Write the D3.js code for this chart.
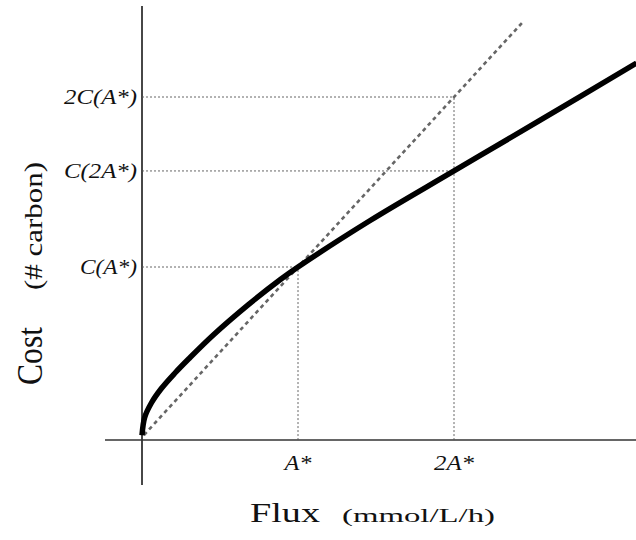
<!DOCTYPE html>
<html>
<head>
<meta charset="utf-8">
<script src="https://cdn.jsdelivr.net/npm/d3@7"></script>
<style>
  body { margin: 0; background: #fff; }
  svg { display: block; }
  text { font-family: "Liberation Serif", "DejaVu Serif", serif; fill: #111; }
</style>
</head>
<body>
<div id="chart"></div>
<script>
// cost curve, flux in units of A*, cost in units of C(A*)
const curveFlux = [0, 0.017, 0.06, 0.124, 0.21, 0.3, 0.457, 0.684, 0.885, 1.0, 1.46, 2.0, 2.55, 3.17];
const curveCost = [0.01, 0.115, 0.2, 0.285, 0.375, 0.46, 0.6, 0.78, 0.925, 1.0, 1.272, 1.565, 1.862, 2.2];

// linear reference (cost proportional to flux)
const refFlux = [0, 2.45];

// guide levels
const xGuides = [1, 2];
const xGuideLabels = ["A*", "2A*"];
const yGuides = [1, 1.565, 2];
const yGuideLabels = ["C(A*)", "C(2A*)", "2C(A*)"];

const width = 636, height = 540;

const svg = d3.select("#chart")
              .append("svg")
              .attr("width", width)
              .attr("height", height);

const x = d3.scaleLinear().domain([0, 3.2]).range([142, 142 + 3.2 * 156]);
const y = d3.scaleLinear().domain([0, 2.55]).range([437, 437 - 2.55 * 170]);

const axisY = y(-0.018);

// axes as plain crossing lines
svg.append("line")
   .attr("x1", x(0)).attr("x2", x(0))
   .attr("y1", 6).attr("y2", 485)
   .attr("stroke", "#333").attr("stroke-width", 1.8);
svg.append("line")
   .attr("x1", 105).attr("x2", width)
   .attr("y1", axisY).attr("y2", axisY)
   .attr("stroke", "#333").attr("stroke-width", 1.6);

// dotted guides
const guides = svg.append("g")
                  .attr("stroke", "#555")
                  .attr("stroke-width", 0.9)
                  .attr("stroke-dasharray", "2,2");

guides.selectAll("line.v")
      .data(xGuides)
      .enter()
      .append("line")
      .attr("class", "v")
      .attr("x1", d => x(d)).attr("x2", d => x(d))
      .attr("y1", axisY)
      .attr("y2", d => y(d));

guides.selectAll("line.h")
      .data(yGuides)
      .enter()
      .append("line")
      .attr("class", "h")
      .attr("x1", x(0))
      .attr("x2", (d, i) => x(i === 0 ? 1 : 2))
      .attr("y1", d => y(d)).attr("y2", d => y(d));

// linear reference
svg.append("line")
   .attr("x1", x(refFlux[0]) + 2).attr("y1", y(refFlux[0]) - 2)
   .attr("x2", x(refFlux[1])).attr("y2", y(refFlux[1]))
   .attr("stroke", "#666")
   .attr("stroke-width", 2.6)
   .attr("stroke-dasharray", "4,3.5");

// cost curve
const line = d3.line()
               .x(d => x(d[0]))
               .y(d => y(d[1]))
               .curve(d3.curveCatmullRom.alpha(0.5));

svg.append("path")
   .datum(d3.zip(curveFlux, curveCost))
   .attr("d", line)
   .attr("fill", "none")
   .attr("stroke", "#000")
   .attr("stroke-width", 5.5);

// tick labels
const yLabelLen = [57, 73, 73];
svg.selectAll("text.ylab")
   .data(yGuides)
   .enter()
   .append("text")
   .attr("class", "ylab")
   .attr("x", (d, i) => 137 - yLabelLen[i])
   .attr("y", d => y(d) + 7)
   .attr("textLength", (d, i) => yLabelLen[i])
   .attr("lengthAdjust", "spacingAndGlyphs")
   .style("font-size", "21px")
   .style("font-style", "italic")
   .text((d, i) => yGuideLabels[i]);

const xLabelLen = [27, 40];
svg.selectAll("text.xlab")
   .data(xGuides)
   .enter()
   .append("text")
   .attr("class", "xlab")
   .attr("x", (d, i) => x(d) - xLabelLen[i] / 2)
   .attr("y", 470)
   .attr("textLength", (d, i) => xLabelLen[i])
   .attr("lengthAdjust", "spacingAndGlyphs")
   .style("font-size", "21px")
   .style("font-style", "italic")
   .text((d, i) => xGuideLabels[i]);

// axis titles
svg.append("text")
   .attr("x", 250).attr("y", 522)
   .attr("textLength", 70).attr("lengthAdjust", "spacingAndGlyphs")
   .style("font-size", "28px")
   .text("Flux");
svg.append("text")
   .attr("x", 342).attr("y", 522)
   .attr("textLength", 153).attr("lengthAdjust", "spacingAndGlyphs")
   .style("font-size", "19px")
   .text("(mmol/L/h)");

svg.append("text")
   .attr("transform", "translate(42,385) rotate(-90)")
   .attr("textLength", 58).attr("lengthAdjust", "spacingAndGlyphs")
   .style("font-size", "35px")
   .text("Cost");
svg.append("text")
   .attr("transform", "translate(42,290) rotate(-90)")
   .attr("textLength", 128).attr("lengthAdjust", "spacingAndGlyphs")
   .style("font-size", "26px")
   .text("(# carbon)");
</script>
</body>
</html>
